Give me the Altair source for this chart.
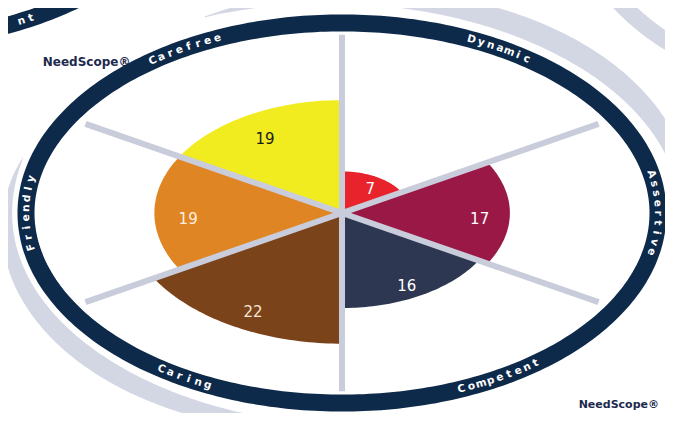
import altair as alt
import numpy as np
import pandas as pd

# ---------------- data ----------------
categories = ["Dynamic", "Assertive", "Competent", "Caring", "Friendly", "Carefree"]
values = [7, 17, 16, 22, 19, 19]
sector_colors = ["#e8232b", "#9a1846", "#2e3752", "#7b431a", "#e08523", "#f1ec1f"]
value_text_colors = ["#ffffff", "#ffffff", "#ffffff", "#f7e7d5", "#fdf0e0", "#1a1a1a"]
brand_label = "NeedScope®"
neighbour_fragment = "nt"

# ---------------- layout / style ----------------
W, H = 657, 405
CX, CY = 334.0, 205.0          # centre of the wheel inside the plot (px)
SX, SY = 9.875, 5.94           # px per data unit (horizontal / vertical) -> ellipse
RING_R = 32.0
DIVIDER_R = 30.0
LABEL_FRAC = 0.82
SPAN = 360 / len(categories)
NB_OX, NB_OY = -47.0, 60.8     # neighbouring wheel (top-left corner)

RING_COLOR = "#0e2a4a"
DIVIDER_COLOR = "#c9ccda"
SHADOW_COLOR = "#d3d6e3"
BRAND_COLOR = "#1d2a4d"
FONT = "DejaVu Sans"

xs = alt.Scale(domain=[-CX / SX, (W - CX) / SX], nice=False, zero=False)
ys = alt.Scale(domain=[-(H - CY) / SY, CY / SY], nice=False, zero=False)


def X(f):
    return alt.X(f"{f}:Q", scale=xs, axis=None)


def Y(f):
    return alt.Y(f"{f}:Q", scale=ys, axis=None)


def pt(a, b, deg, ox=0.0, oy=0.0):
    t = np.radians(deg)
    return ox + a * np.sin(t), oy + b * np.cos(t)


# sectors
rows = []
for i, (c, v) in enumerate(zip(categories, values)):
    a0 = i * SPAN
    rows.append(dict(cat=c, o=0, x=0.0, y=0.0))
    for k, d in enumerate(np.linspace(a0, a0 + SPAN, 49)):
        x, y = pt(v, v, d)
        rows.append(dict(cat=c, o=k + 1, x=x, y=y))
sectors = pd.DataFrame(rows)

# value labels
lab = []
for i, (c, v, tc) in enumerate(zip(categories, values, value_text_colors)):
    x, y = pt(v * LABEL_FRAC, v * LABEL_FRAC, i * SPAN + SPAN / 2)
    lab.append(dict(x=x, y=y, v=str(v), tc=tc))
labels = pd.DataFrame(lab)

# dividers
div = []
for i in range(len(categories)):
    x, y = pt(DIVIDER_R, DIVIDER_R, i * SPAN)
    div.append(dict(x0=0.0, y0=0.0, x1=x, y1=y))
dividers = pd.DataFrame(div)


# ring outline
def ellipse(a, b, d0, d1, n, ox=0.0, oy=0.0, group="g"):
    out = []
    for k, d in enumerate(np.linspace(d0, d1, n)):
        x, y = pt(a, b, d, ox, oy)
        out.append(dict(g=group, o=k, x=x, y=y, d=d))
    return out


ring = pd.DataFrame(ellipse(RING_R, RING_R, 0, 359, 360))
neighbour_ring = pd.DataFrame(ellipse(RING_R, RING_R, 118, 180, 60, NB_OX, NB_OY))


# shadows (tapered swooshes)
def swoosh(a, b, d0, d1, ox, oy, wmax, group, power=0.8):
    pts = ellipse(a, b, d0, d1, 90, ox, oy, group)
    for p in pts:
        f = (p["d"] - d0) / (d1 - d0)
        p["w"] = wmax * (np.sin(np.pi * f) ** power)
    return pts


shadows = pd.DataFrame(
    swoosh(34.2, 35.7, -25, 105, 0.6, 0.7, 22, "tr")
    + swoosh(33.6, 35.0, 170, 288, -0.3, -1.35, 19, "bl")
    + swoosh(34.2, 35.7, 205, 262, 57.5, 53.7, 17, "nb", power=0.3)
)


# curved ring letters
def ring_letters(text, mid, a, b, ox=0.0, oy=0.0, spacing=9.8):
    forward = not (120 < mid % 360 < 240)
    sgn = 1 if forward else -1
    pa, pb = a * SX, b * SY
    t = np.radians(mid)
    speed = np.hypot(pa * np.cos(t), pb * np.sin(t))
    step = np.degrees(spacing / speed)
    n = len(text)
    out = []
    for k, ch in enumerate(text):
        d = mid + sgn * (k - (n - 1) / 2) * step
        tt = np.radians(d)
        x, y = pt(a, b, d, ox, oy)
        ang = np.degrees(np.arctan2(sgn * pb * np.sin(tt), sgn * pa * np.cos(tt))) % 360
        out.append(dict(ch=ch, x=x, y=y, angle=ang))
    return out


letters_rows = []
for i, c in enumerate(categories):
    letters_rows += ring_letters(c, i * SPAN + SPAN / 2, RING_R, RING_R)
letters_rows += ring_letters(neighbour_fragment, 152, RING_R, RING_R, NB_OX, NB_OY)
letters = pd.DataFrame(letters_rows)

brands = pd.DataFrame([dict(t=brand_label, x=-30.3, y=25.4)])
brands_r = pd.DataFrame([dict(t=brand_label, x=32.1, y=-32.4)])

# ---------------- layers ----------------
shadow_layer = alt.Chart(shadows).mark_trail(color=SHADOW_COLOR).encode(
    x=X("x"), y=Y("y"), order="o:Q", detail="g:N",
    size=alt.Size("w:Q", scale=None, legend=None))

brand_left = alt.Chart(brands).mark_text(
    font=FONT, fontWeight="bold", fontSize=12, color=BRAND_COLOR, align="left", baseline="middle"
).encode(x=X("x"), y=Y("y"), text="t:N")

brand_right = alt.Chart(brands_r).mark_text(
    font=FONT, fontWeight="bold", fontSize=11, color=BRAND_COLOR, align="right", baseline="middle"
).encode(x=X("x"), y=Y("y"), text="t:N")

ring_layer = alt.Chart(ring).mark_line(
    interpolate="linear-closed", strokeWidth=17, color=RING_COLOR
).encode(x=X("x"), y=Y("y"), order="o:Q")

neighbour_layer = alt.Chart(neighbour_ring).mark_line(
    strokeWidth=17, color=RING_COLOR
).encode(x=X("x"), y=Y("y"), order="o:Q")

sector_layer = alt.Chart(sectors).mark_line(
    filled=True, interpolate="linear-closed", strokeWidth=0
).encode(
    x=X("x"), y=Y("y"), order="o:Q", detail="cat:N",
    color=alt.Color("cat:N", scale=alt.Scale(domain=categories, range=sector_colors), legend=None))

divider_layer = alt.Chart(dividers).mark_rule(
    strokeWidth=6, color=DIVIDER_COLOR, strokeCap="butt"
).encode(x=X("x0"), y=Y("y0"), x2="x1:Q", y2="y1:Q")

value_layer = alt.Chart(labels).mark_text(
    font=FONT, fontSize=15, baseline="middle", align="center", dy=6
).encode(x=X("x"), y=Y("y"), text="v:N", color=alt.Color("tc:N", scale=None))

letter_layer = alt.Chart(letters).mark_text(
    font=FONT, fontWeight="bold", fontSize=10.5, color="white", baseline="middle", align="center"
).encode(x=X("x"), y=Y("y"), text="ch:N", angle=alt.Angle("angle:Q", scale=None))

chart = alt.layer(
    shadow_layer, brand_left, ring_layer, neighbour_layer, sector_layer,
    divider_layer, value_layer, letter_layer, brand_right
).properties(
    width=W, height=H, padding=0, autosize=alt.AutoSizeParams(type="none"),
    background="white"
).configure_view(stroke=None)

chart.save("out.html", embed_options={"renderer": "svg", "actions": False})
